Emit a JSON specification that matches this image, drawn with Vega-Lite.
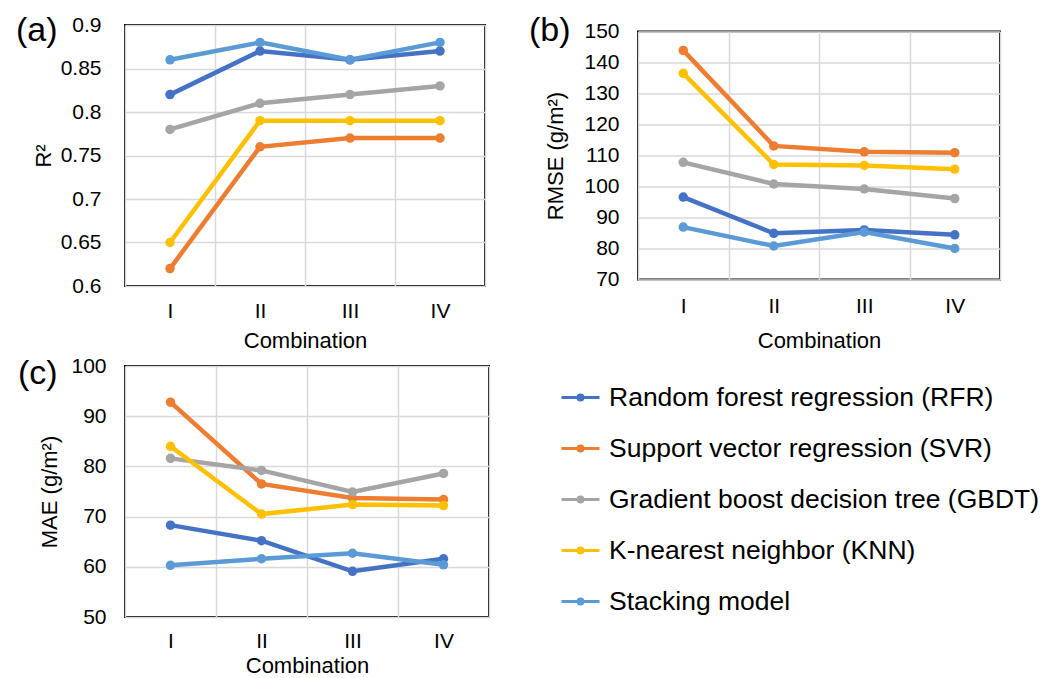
{
  "$schema": "https://vega.github.io/schema/vega-lite/v6.json",
  "background": "white",
  "padding": {"left": 15, "top": 12, "right": 5, "bottom": 0},
  "config": {
    "font": "Liberation Sans",
    "view": {"stroke": "#000000", "strokeWidth": 2},
    "axis": {
      "labelFontSize": 21, "titleFontSize": 22, "labelColor": "#000000", "titleColor": "#000000",
      "titleFontWeight": "normal", "ticks": false, "domain": false,
      "gridColor": "#d9d9d9", "gridWidth": 1.5, "labelFont": "Liberation Sans", "titleFont": "Liberation Sans"
    },
    "title": {"fontSize": 34, "fontWeight": "normal", "anchor": "start", "frame": "group", "orient": "top", "offset": 0, "color": "#000000", "font": "Liberation Sans"}
  },
  "datasets": {
    "r2": [
      {"combo": "I", "model": "Random forest regression (RFR)", "value": 0.82},
      {"combo": "II", "model": "Random forest regression (RFR)", "value": 0.87},
      {"combo": "III", "model": "Random forest regression (RFR)", "value": 0.86},
      {"combo": "IV", "model": "Random forest regression (RFR)", "value": 0.87},
      {"combo": "I", "model": "Support vector regression (SVR)", "value": 0.62},
      {"combo": "II", "model": "Support vector regression (SVR)", "value": 0.76},
      {"combo": "III", "model": "Support vector regression (SVR)", "value": 0.77},
      {"combo": "IV", "model": "Support vector regression (SVR)", "value": 0.77},
      {"combo": "I", "model": "Gradient boost decision tree (GBDT)", "value": 0.78},
      {"combo": "II", "model": "Gradient boost decision tree (GBDT)", "value": 0.81},
      {"combo": "III", "model": "Gradient boost decision tree (GBDT)", "value": 0.82},
      {"combo": "IV", "model": "Gradient boost decision tree (GBDT)", "value": 0.83},
      {"combo": "I", "model": "K-nearest neighbor (KNN)", "value": 0.65},
      {"combo": "II", "model": "K-nearest neighbor (KNN)", "value": 0.79},
      {"combo": "III", "model": "K-nearest neighbor (KNN)", "value": 0.79},
      {"combo": "IV", "model": "K-nearest neighbor (KNN)", "value": 0.79},
      {"combo": "I", "model": "Stacking model", "value": 0.86},
      {"combo": "II", "model": "Stacking model", "value": 0.88},
      {"combo": "III", "model": "Stacking model", "value": 0.86},
      {"combo": "IV", "model": "Stacking model", "value": 0.88}
    ],
    "rmse": [
      {"combo": "I", "model": "Random forest regression (RFR)", "value": 96.6},
      {"combo": "II", "model": "Random forest regression (RFR)", "value": 84.9},
      {"combo": "III", "model": "Random forest regression (RFR)", "value": 86.0},
      {"combo": "IV", "model": "Random forest regression (RFR)", "value": 84.4},
      {"combo": "I", "model": "Support vector regression (SVR)", "value": 143.9},
      {"combo": "II", "model": "Support vector regression (SVR)", "value": 113.1},
      {"combo": "III", "model": "Support vector regression (SVR)", "value": 111.2},
      {"combo": "IV", "model": "Support vector regression (SVR)", "value": 110.9},
      {"combo": "I", "model": "Gradient boost decision tree (GBDT)", "value": 107.8},
      {"combo": "II", "model": "Gradient boost decision tree (GBDT)", "value": 100.8},
      {"combo": "III", "model": "Gradient boost decision tree (GBDT)", "value": 99.2},
      {"combo": "IV", "model": "Gradient boost decision tree (GBDT)", "value": 96.1},
      {"combo": "I", "model": "K-nearest neighbor (KNN)", "value": 136.5},
      {"combo": "II", "model": "K-nearest neighbor (KNN)", "value": 107.1},
      {"combo": "III", "model": "K-nearest neighbor (KNN)", "value": 106.8},
      {"combo": "IV", "model": "K-nearest neighbor (KNN)", "value": 105.6},
      {"combo": "I", "model": "Stacking model", "value": 86.9},
      {"combo": "II", "model": "Stacking model", "value": 80.8},
      {"combo": "III", "model": "Stacking model", "value": 85.3},
      {"combo": "IV", "model": "Stacking model", "value": 80.0}
    ],
    "mae": [
      {"combo": "I", "model": "Random forest regression (RFR)", "value": 68.3},
      {"combo": "II", "model": "Random forest regression (RFR)", "value": 65.2},
      {"combo": "III", "model": "Random forest regression (RFR)", "value": 59.1},
      {"combo": "IV", "model": "Random forest regression (RFR)", "value": 61.6},
      {"combo": "I", "model": "Support vector regression (SVR)", "value": 92.8},
      {"combo": "II", "model": "Support vector regression (SVR)", "value": 76.5},
      {"combo": "III", "model": "Support vector regression (SVR)", "value": 73.7},
      {"combo": "IV", "model": "Support vector regression (SVR)", "value": 73.4},
      {"combo": "I", "model": "Gradient boost decision tree (GBDT)", "value": 81.6},
      {"combo": "II", "model": "Gradient boost decision tree (GBDT)", "value": 79.2},
      {"combo": "III", "model": "Gradient boost decision tree (GBDT)", "value": 74.9},
      {"combo": "IV", "model": "Gradient boost decision tree (GBDT)", "value": 78.6},
      {"combo": "I", "model": "K-nearest neighbor (KNN)", "value": 84.0},
      {"combo": "II", "model": "K-nearest neighbor (KNN)", "value": 70.5},
      {"combo": "III", "model": "K-nearest neighbor (KNN)", "value": 72.4},
      {"combo": "IV", "model": "K-nearest neighbor (KNN)", "value": 72.2},
      {"combo": "I", "model": "Stacking model", "value": 60.3},
      {"combo": "II", "model": "Stacking model", "value": 61.6},
      {"combo": "III", "model": "Stacking model", "value": 62.7},
      {"combo": "IV", "model": "Stacking model", "value": 60.4}
    ]
  },
  "columns": 2,
  "bounds": "flush",
  "spacing": {"row": 80, "column": 149},
  "center": {"row": true},
  "resolve": {"scale": {"x": "independent", "y": "independent"}},
  "concat": [
    {
      "width": 360, "height": 261,
      "title": {"text": "(a)", "dx": -109, "dy": 38},
      "data": {"name": "r2"},
      "encoding": {
        "x": {"field": "combo", "type": "ordinal", "sort": ["I", "II", "III", "IV"], "scale": {"paddingInner": 0, "paddingOuter": 0},
              "axis": {"title": "Combination", "labelAngle": 0, "tickBand": "extent", "grid": true, "labelPadding": 14, "titlePadding": 9}},
        "y": {"field": "value", "type": "quantitative", "scale": {"domain": [0.6, 0.9], "zero": false, "nice": false},
              "axis": {"values": [0.6, 0.65, 0.7, 0.75, 0.8, 0.85, 0.9], "format": ".2~f", "title": "R²", "labelPadding": 24, "titlePadding": 5}},
        "color": {"field": "model", "type": "nominal",
                  "scale": {"domain": ["Random forest regression (RFR)", "Support vector regression (SVR)", "Gradient boost decision tree (GBDT)", "K-nearest neighbor (KNN)", "Stacking model"],
                            "range": ["#4472C4", "#ED7D31", "#A5A5A5", "#FFC000", "#5B9BD5"]},
                  "legend": {"orient": "none", "legendX": 435, "legendY": 352, "title": null,
                             "symbolType": "M-1,0L1,0M-0.13,0A0.13,0.13,0,1,1,0.13,0A0.13,0.13,0,1,1,-0.13,0Z",
                             "symbolSize": 1444, "symbolStrokeWidth": 3, "labelFontSize": 26.5, "labelFont": "Liberation Sans", "labelColor": "#000000",
                             "labelOffset": 8, "rowPadding": 17, "labelLimit": 600,
                             "encode": {"symbols": {"update": {"fill": {"scale": "color", "field": "value"}, "stroke": {"scale": "color", "field": "value"}, "opacity": {"value": 1}}}}}}
      },
      "layer": [
        {"mark": {"type": "line", "strokeWidth": 4.5}},
        {"mark": {"type": "point", "filled": true, "size": 90, "opacity": 1}}
      ]
    },
    {
      "width": 362, "height": 248,
      "title": {"text": "(b)", "dx": -109, "dy": 31},
      "data": {"name": "rmse"},
      "encoding": {
        "x": {"field": "combo", "type": "ordinal", "sort": ["I", "II", "III", "IV"], "scale": {"paddingInner": 0, "paddingOuter": 0},
              "axis": {"title": "Combination", "labelAngle": 0, "tickBand": "extent", "grid": true, "labelPadding": 16, "titlePadding": 14}},
        "y": {"field": "value", "type": "quantitative", "scale": {"domain": [70, 150], "zero": false, "nice": false},
              "axis": {"values": [70, 80, 90, 100, 110, 120, 130, 140, 150], "title": "RMSE (g/m²)", "labelPadding": 19, "titlePadding": 16}},
        "color": {"field": "model", "type": "nominal",
                  "scale": {"domain": ["Random forest regression (RFR)", "Support vector regression (SVR)", "Gradient boost decision tree (GBDT)", "K-nearest neighbor (KNN)", "Stacking model"],
                            "range": ["#4472C4", "#ED7D31", "#A5A5A5", "#FFC000", "#5B9BD5"]}}
      },
      "layer": [
        {"mark": {"type": "line", "strokeWidth": 4.5}},
        {"mark": {"type": "point", "filled": true, "size": 90, "opacity": 1}}
      ]
    },
    {
      "width": 364, "height": 251,
      "title": {"text": "(c)", "dx": -107, "dy": 40},
      "data": {"name": "mae"},
      "encoding": {
        "x": {"field": "combo", "type": "ordinal", "sort": ["I", "II", "III", "IV"], "scale": {"paddingInner": 0, "paddingOuter": 0},
              "axis": {"title": "Combination", "labelAngle": 0, "tickBand": "extent", "grid": true, "labelPadding": 13, "titlePadding": 4}},
        "y": {"field": "value", "type": "quantitative", "scale": {"domain": [50, 100], "zero": false, "nice": false},
              "axis": {"values": [50, 60, 70, 80, 90, 100], "title": "MAE (g/m²)", "labelPadding": 19, "titlePadding": 9}},
        "color": {"field": "model", "type": "nominal",
                  "scale": {"domain": ["Random forest regression (RFR)", "Support vector regression (SVR)", "Gradient boost decision tree (GBDT)", "K-nearest neighbor (KNN)", "Stacking model"],
                            "range": ["#4472C4", "#ED7D31", "#A5A5A5", "#FFC000", "#5B9BD5"]}}
      },
      "layer": [
        {"mark": {"type": "line", "strokeWidth": 4.5}},
        {"mark": {"type": "point", "filled": true, "size": 90, "opacity": 1}}
      ]
    }
  ]
}
